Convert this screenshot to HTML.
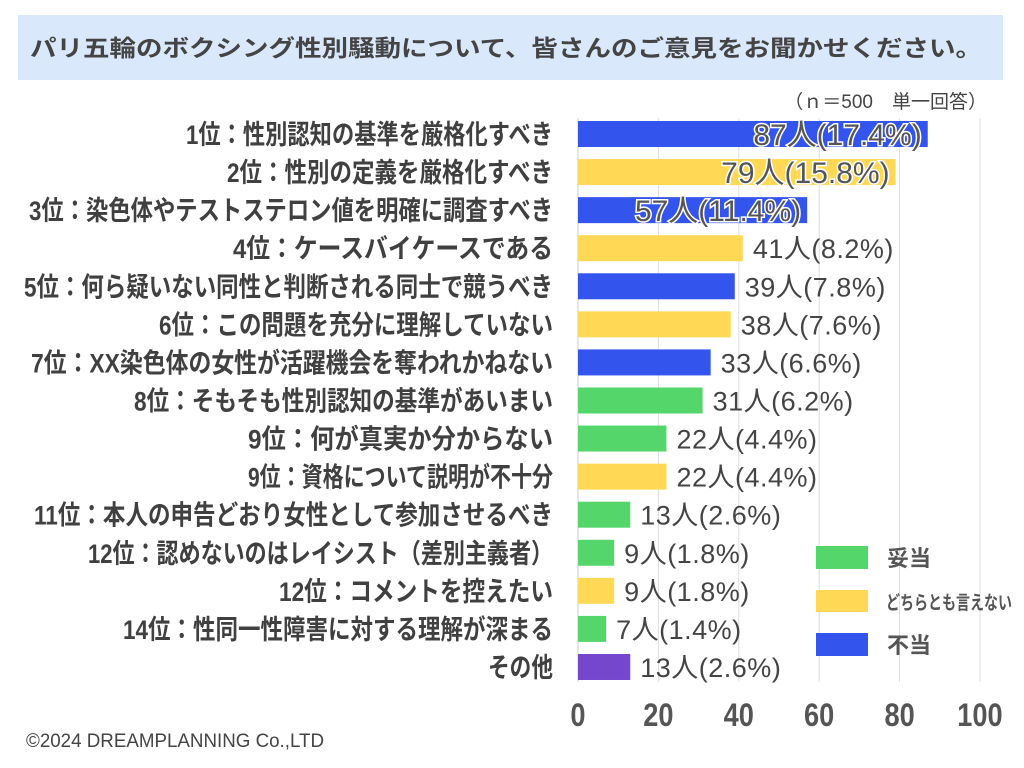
<!DOCTYPE html>
<html><head><meta charset="utf-8"><style>
body{margin:0;background:#fff;}
svg{display:block;font-family:"Liberation Sans","Noto Sans CJK JP",sans-serif;}
</style></head><body>
<svg id="c" width="1024" height="768">
<rect x="18" y="15" width="985" height="65" fill="#dae8fb"/>
<text x="30" y="56" font-size="23" font-weight="bold" fill="#444" textLength="952" lengthAdjust="spacingAndGlyphs">パリ五輪のボクシング性別騒動について、皆さんのご意見をお聞かせください。</text>
<text x="987" y="108" font-size="19" fill="#444" text-anchor="end">（ｎ＝500　単一回答）</text>
<g id="grid"></g><g id="bars"></g><g id="labels"></g><g id="vals"></g><g id="ticks"></g>
<g>
<rect x="816" y="546" width="52" height="23" fill="#55d66b"/>
<text x="887" y="566" font-size="22" font-weight="bold" fill="#555">妥当</text>
<rect x="816" y="590" width="52" height="22" fill="#ffd955"/>
<text x="886" y="609" font-size="19" font-weight="bold" fill="#555" textLength="126" lengthAdjust="spacingAndGlyphs">どちらとも言えない</text>
<rect x="816" y="633" width="52" height="23" fill="#3355ee"/>
<text x="887" y="653" font-size="22" font-weight="bold" fill="#555">不当</text>
</g>
<text x="26" y="747" font-size="19" fill="#444" textLength="298" lengthAdjust="spacingAndGlyphs">©2024 DREAMPLANNING Co.,LTD</text>
</svg>
<script>
const categories=["1位：性別認知の基準を厳格化すべき","2位：性別の定義を厳格化すべき","3位：染色体やテストステロン値を明確に調査すべき","4位：ケースバイケースである","5位：何ら疑いない同性と判断される同士で競うべき","6位：この問題を充分に理解していない","7位：XX染色体の女性が活躍機会を奪われかねない","8位：そもそも性別認知の基準があいまい","9位：何が真実か分からない","9位：資格について説明が不十分","11位：本人の申告どおり女性として参加させるべき","12位：認めないのはレイシスト（差別主義者）","12位：コメントを控えたい","14位：性同一性障害に対する理解が深まる","その他"];
const counts=[87,79,57,41,39,38,33,31,22,22,13,9,9,7,13];
const percents=["17.4","15.8","11.4","8.2","7.8","7.6","6.6","6.2","4.4","4.4","2.6","1.8","1.8","1.4","2.6"];
const groups=["invalid","neutral","invalid","neutral","invalid","neutral","invalid","valid","valid","neutral","valid","valid","neutral","valid","other"];
const labelWidths=[367,326,524,320,529,394,522,419,305,305,519,465,274,430,65];
const ticks=[0,20,40,60,80,100];
const colors={invalid:"#3355ee",neutral:"#ffd955",valid:"#55d66b",other:"#7447cc"};
const NS="http://www.w3.org/2000/svg";
const x=v=>578+v*4.02;
const y=i=>134+i*38.07;
function mk(p,t,a){const e=document.createElementNS(NS,t);for(const k in a)e.setAttribute(k,a[k]);document.getElementById(p).appendChild(e);return e;}
ticks.forEach((t,i)=>{
 if(i>0){const g=mk("grid","line",{x1:x(t),x2:x(t),y1:118,y2:682,stroke:"#ddd","stroke-width":1});
 
 }
 const tl=mk("ticks","text",{x:x(t),y:726,"font-size":32,"font-weight":"bold",fill:"#555","text-anchor":"middle",transform:`translate(${x(t)},0) scale(0.85,1) translate(${-x(t)},0)`});
 tl.textContent=t;
 
 
});
mk("grid","line",{x1:578,x2:578,y1:118,y2:682,stroke:"#ccc","stroke-width":1});
categories.forEach((c,i)=>{
 const b=mk("bars","rect",{x:x(0),y:y(i)-13,width:x(counts[i])-x(0),height:26,fill:colors[groups[i]]});
 
 
 const l=mk("labels","text",{x:553-labelWidths[i],y:y(i)+10,"font-size":27,"font-weight":"bold",fill:"#404040",textLength:labelWidths[i],lengthAdjust:"spacingAndGlyphs"});
 l.textContent=c;
 
 
 const s=counts[i]+"人("+percents[i]+"%)";
 let v;
 if(i<3){
  v=mk("vals","text",{x:x(counts[i])-6,y:y(i)+11,"font-size":30,fill:"#555","text-anchor":"end",stroke:"#fff","stroke-width":3,"paint-order":"stroke"});
 }else{
  v=mk("vals","text",{x:x(counts[i])+10,y:y(i)+10,"font-size":27,fill:"#444","letter-spacing":"0.5"});
 }
 v.textContent=s;
 
 
});
</script>
</body></html>
